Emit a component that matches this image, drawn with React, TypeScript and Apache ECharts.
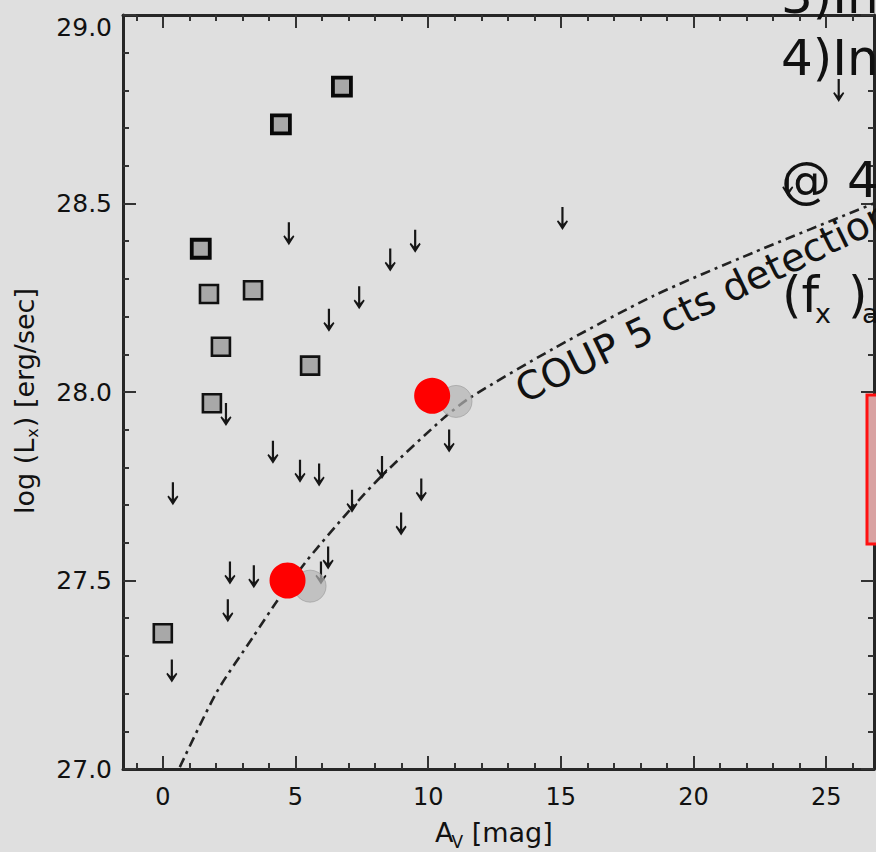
import React, { useEffect, useRef } from "react";
import * as echarts from "echarts";

// X-ray detected sources (A_V in mag, log Lx in erg/s)
const detAvHeavy = [6.75, 4.45, 1.43];
const detLxHeavy = [28.81, 28.71, 28.38];
const detAv = [1.74, 3.4, 2.19, 5.55, 1.85, 0.0];
const detLx = [28.26, 28.27, 28.12, 28.07, 27.97, 27.36];

// Upper limits (non-detections)
const ulAv = [4.75, 9.51, 8.57, 7.4, 6.26, 2.38, 4.15, 5.17, 5.89, 0.38, 8.26, 7.13, 10.79, 9.74, 8.98, 6.23, 5.96, 2.53, 3.43, 2.45, 0.34, 25.47, 15.06, 23.55];
const ulLx = [28.42, 28.4, 28.35, 28.25, 28.19, 27.94, 27.84, 27.79, 27.78, 27.73, 27.8, 27.71, 27.87, 27.74, 27.65, 27.56, 27.52, 27.52, 27.51, 27.42, 27.26, 28.8, 28.46, 28.55];

// Highlighted objects and their faded counterparts
const markAv = [4.7, 10.15];
const markLx = [27.5, 27.99];
const shadeAv = [5.55, 11.05];
const shadeLx = [27.485, 27.975];

// COUP 5-count detection limit
const curveAv = [0.64, 2.04, 3.4, 4.3, 5.43, 7.06, 8.3, 10.57, 11.58, 14.72, 18.49, 22.26, 26.79];
const curveLx = [27.005, 27.205, 27.35, 27.445, 27.553, 27.688, 27.781, 27.93, 27.985, 28.115, 28.255, 28.37, 28.5];

// Axis ticks
const xMajor = [0, 5, 10, 15, 20, 25];
const xMinor = [-1, 1, 2, 3, 4, 6, 7, 8, 9, 11, 12, 13, 14, 16, 17, 18, 19, 21, 22, 23, 24, 26];

const W = 876;
const H = 852;
const FONT = '"DejaVu Sans", sans-serif';
const BG = "#dfdfdf";
const INK = "#111111";

function measure(text: string, size: number): number {
  const c = document.createElement("canvas").getContext("2d");
  if (!c) return text.length * size * 0.6;
  c.font = `${size}px "DejaVu Sans"`;
  return c.measureText(text).width;
}

function label(text: string, x: number, y: number, size: number, extra: any = {}) {
  return {
    type: "text",
    x,
    y,
    z: 100,
    ...extra,
    style: {
      text,
      fill: INK,
      font: `${size}px ${FONT}`,
      textAlign: "left",
      textVerticalAlign: "middle",
    },
  };
}

export default function App() {
  const ref = useRef<HTMLDivElement>(null);

  useEffect(() => {
    document.body.style.margin = "0";
    const chart = echarts.init(ref.current!, null, { renderer: "svg" });
    const pair = (xs: number[], ys: number[]) => xs.map((x, i) => [x, ys[i]]);

    const axisLine = { show: true, onZero: false, lineStyle: { color: "#262626", width: 3 } };
    const tickStyle = { color: "#333333", width: 2 };
    const baseX = {
      type: "value",
      min: -1.5,
      max: 26.8,
      splitLine: { show: false },
      axisLine: { show: false },
      axisLabel: { show: false },
    };
    const majorTick = { show: true, inside: true, length: 13, customValues: xMajor, lineStyle: tickStyle };
    const minorTickX = { show: true, inside: true, length: 6, customValues: xMinor, lineStyle: tickStyle };

    const baseY = {
      type: "value",
      min: 27,
      max: 29,
      interval: 0.5,
      splitLine: { show: false },
      axisLine,
      axisTick: { show: true, inside: true, length: 13, lineStyle: tickStyle },
      minorTick: { show: true, splitNumber: 5, length: 6, lineStyle: tickStyle },
    };

    // axis titles built from pieces so the subscripts sit low
    const ySize = 27;
    const ySub = 16;
    const yStart = 514;
    const w1 = measure("log (L", ySize);
    const w2 = measure("x", ySub);
    const rot = Math.PI / 2;

    const xSize = 27;
    const xSub = 17;
    const xStart = 435;
    const wa = measure("A", xSize);
    const wv = measure("V", xSub);

    // slanted annotation along the detection limit
    const ang = (26 * Math.PI) / 180;
    const coupSize = 39;
    const off = 0.35 * coupSize;
    const bx = 524;
    const by = 404;

    chart.setOption({
      animation: false,
      backgroundColor: BG,
      grid: { left: 123, top: 15, right: 2, bottom: 83 },
      xAxis: [
        {
          ...baseX,
          position: "bottom",
          axisLine,
          axisTick: majorTick,
          axisLabel: {
            show: true,
            customValues: xMajor,
            margin: 16,
            color: INK,
            fontSize: 24,
            fontFamily: FONT,
          },
        },
        { ...baseX, position: "bottom", axisTick: minorTickX },
        { ...baseX, position: "top", axisLine, axisTick: majorTick },
        { ...baseX, position: "top", axisTick: minorTickX },
      ],
      yAxis: [
        {
          ...baseY,
          position: "left",
          axisLabel: {
            show: true,
            margin: 11,
            color: INK,
            fontSize: 25,
            fontFamily: FONT,
            formatter: (v: number) => v.toFixed(1),
            verticalAlignMaxLabel: "top",
          },
        },
        { ...baseY, position: "right", axisLabel: { show: false } },
      ],
      series: [
        {
          type: "line",
          data: pair(curveAv, curveLx),
          smooth: 0.25,
          showSymbol: false,
          silent: true,
          lineStyle: { color: "#222222", width: 2.6, type: [10, 5, 3, 5] },
          z: 2,
        },
        {
          type: "scatter",
          data: pair(ulAv, ulLx),
          symbol: "path://M4 0H6V16L9 12.6L10 13.8L5 22L0 13.8L1 12.6L4 16Z",
          symbolSize: [11, 23],
          itemStyle: { color: "#161616", opacity: 1 },
          z: 3,
        },
        {
          type: "scatter",
          data: pair(detAv, detLx),
          symbol: "rect",
          symbolSize: 18,
          itemStyle: { color: "#a8a8a8", borderColor: "#111111", borderWidth: 2.6, opacity: 1 },
          z: 4,
        },
        {
          type: "scatter",
          data: pair(detAvHeavy, detLxHeavy),
          symbol: "rect",
          symbolSize: 18,
          itemStyle: { color: "#a8a8a8", borderColor: "#080808", borderWidth: 3.8, opacity: 1 },
          z: 4,
        },
        {
          type: "scatter",
          data: pair(shadeAv, shadeLx),
          symbolSize: 32,
          itemStyle: {
            color: "rgba(180,180,180,0.7)",
            borderColor: "rgba(150,150,150,0.6)",
            borderWidth: 1,
            opacity: 1,
          },
          z: 5,
        },
        {
          type: "scatter",
          data: pair(markAv, markLx),
          symbolSize: 36,
          itemStyle: { color: "#ff0000", opacity: 1 },
          z: 6,
        },
      ],
      graphic: [
        // y-axis title
        label("log (L", 24, yStart, ySize, { rotation: rot }),
        label("x", 32, yStart - w1 - 1, ySub, { rotation: rot }),
        label(") [erg/sec]", 24, yStart - w1 - w2 - 2, ySize, { rotation: rot }),
        // x-axis title
        label("A", xStart, 832, xSize),
        label("V", xStart + wa - 2, 842, xSub),
        label(" [mag]", xStart + wa + wv - 2, 832, xSize),
        // detection-limit annotation
        label("COUP 5 cts detection", bx - off * Math.sin(ang), by - off * Math.cos(ang), coupSize, {
          rotation: ang,
        }),
        // notes overlaid on the right
        label("3)Int", 781, -4.5, 50),
        label("4)Int", 781, 57.5, 50),
        label("@ 4", 781, 179.5, 50),
        label("(f", 782, 294.5, 50),
        label("x", 815, 313.5, 27),
        label(")", 848, 294.5, 50),
        label("a", 862, 313.5, 27),
        {
          type: "rect",
          z: 100,
          shape: { x: 867, y: 395, width: 30, height: 149 },
          style: { fill: "#d9a2a2", stroke: "#ff1010", lineWidth: 3 },
        },
      ],
    });

    return () => chart.dispose();
  }, []);

  return <div ref={ref} style={{ width: W, height: H }} />;
}
